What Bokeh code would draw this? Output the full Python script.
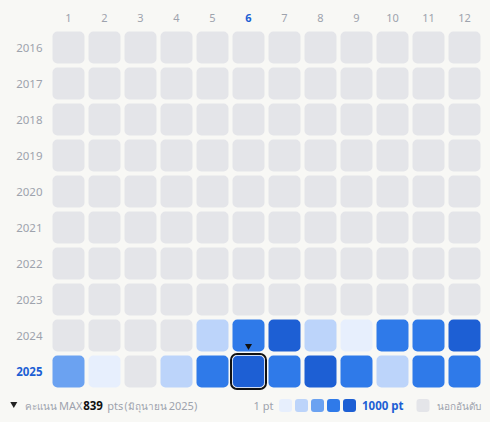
from bokeh.plotting import figure
from bokeh.models import Range1d
from bokeh.embed import file_html
from bokeh.resources import INLINE
from bokeh.core.properties import value

# ---------------- data ----------------
years = [2016, 2017, 2018, 2019, 2020, 2021, 2022, 2023, 2024, 2025]
months = [1, 2, 3, 4, 5, 6, 7, 8, 9, 10, 11, 12]
month_labels = ["1", "2", "3", "4", "5", "6", "7", "8", "9", "10", "11", "12"]
thai_months = ["มกราคม", "กุมภาพันธ์", "มีนาคม", "เมษายน", "พฤษภาคม", "มิถุนายน",
               "กรกฎาคม", "สิงหาคม", "กันยายน", "ตุลาคม", "พฤศจิกายน", "ธันวาคม"]

# monthly points (None = not ranked)
pts_2016 = [None] * 12
pts_2017 = [None] * 12
pts_2018 = [None] * 12
pts_2019 = [None] * 12
pts_2020 = [None] * 12
pts_2021 = [None] * 12
pts_2022 = [None] * 12
pts_2023 = [None] * 12
pts_2024 = [None, None, None, None, 310, 700, 812, 280, 90, 650, 720, 826]
pts_2025 = [480, 60, None, 330, 680, 839, 760, 818, 640, 260, 700, 730]
all_pts = [pts_2016, pts_2017, pts_2018, pts_2019, pts_2020,
           pts_2021, pts_2022, pts_2023, pts_2024, pts_2025]

sel_year = 2025
sel_month = 6
max_pts = 839
score_label = "คะแนน"
max_label = "MAX"
scale_min_label = "1 pt"
scale_max_label = "1000 pt"
unranked_label = "นอกอันดับ"
level_thresholds = [200, 400, 600, 800]

# ---------------- style ----------------
BG = "#f8f8f5"
EMPTY = "#e4e5e9"
BLUES = ["#e7effd", "#bcd4fa", "#6ba2f1", "#2f7ae9", "#1d5fd4"]
GRAY_TXT = "#9ea3ad"
BLUE_TXT = "#1d5fd4"
FONT = value("Noto Sans")

W, H = 490, 422
PX = 36.0
x0 = 1 - 68 / PX          # month 1 centre at page x 68
y_top = 2016 - 47 / PX    # 2016 row centre at page y 47


def dx(px):
    return px / PX


def fx(page_x):
    return x0 + page_x / PX


def fy(page_y):
    return y_top + page_y / PX


def level(v):
    if v is None:
        return None
    lv = 0
    for t in level_thresholds:
        if v > t:
            lv += 1
    return lv


p = figure(width=W, height=H, output_backend="svg", toolbar_location=None,
           x_range=Range1d(x0, x0 + W / PX),
           y_range=Range1d(y_top + H / PX, y_top),
           min_border=0, background_fill_color=BG, border_fill_color=BG,
           outline_line_color=None)
p.axis.visible = False
p.xgrid.visible = False
p.ygrid.visible = False

# cells
cx, cy, cc = [], [], []
for yr, row in zip(years, all_pts):
    for m, v in zip(months, row):
        lv = level(v)
        cx.append(m)
        cy.append(yr)
        cc.append(EMPTY if lv is None else BLUES[lv])
h = dx(16)
p.quad(left=[x - h for x in cx], right=[x + h for x in cx],
       top=[y - h for y in cy], bottom=[y + h for y in cy],
       fill_color=cc, line_color=None, border_radius=5)

# selected cell outline
p.quad(left=[sel_month - h - dx(1.5)], right=[sel_month + h + dx(1.5)],
       top=[sel_year - h - dx(1.5)], bottom=[sel_year + h + dx(1.5)],
       fill_color=None, line_color="#111111", line_width=2, border_radius=6)
p.quad(left=[sel_month - h], right=[sel_month + h],
       top=[sel_year - h], bottom=[sel_year + h],
       fill_color=None, line_color="#ffffff", line_width=1, line_alpha=0.6,
       border_radius=5)
p.scatter(x=[sel_month], y=[sel_year - 1 + dx(10.5)], marker="inverted_triangle",
          size=7, fill_color="#111111", line_color=None)

# month labels
mcol = [BLUE_TXT if m == sel_month else GRAY_TXT for m in months]
mstyle = ["bold" if m == sel_month else "normal" for m in months]
p.text(x=months, y=[fy(17)] * 12, text=month_labels, text_font=FONT,
       text_font_size="11px", text_align="center", text_baseline="middle",
       text_color=mcol, text_font_style=mstyle)

# year labels
ycol = [BLUE_TXT if yv == sel_year else GRAY_TXT for yv in years]
ystyle = ["bold" if yv == sel_year else "normal" for yv in years]
p.text(x=[fx(42)] * len(years), y=years, text=[str(yv) for yv in years],
       text_font=FONT, text_font_size="11.5px", text_align="right",
       text_baseline="middle", text_color=ycol, text_font_style=ystyle)

# footer
FY = fy(405)


def ftext(px_, s, size="11px", color=GRAY_TXT, style="normal", align="left"):
    p.text(x=[fx(px_)], y=[FY], text=[s], text_font=FONT, text_font_size=size,
           text_baseline="middle", text_color=color, text_font_style=style,
           text_align=align)


p.scatter(x=[fx(13.3)], y=[fy(403.5)], marker="inverted_triangle", size=7,
          fill_color="#222222", line_color=None)
ftext(24, score_label, size="10px")
ftext(58.5, max_label)
ftext(82.7, str(max_pts), size="11.5px", color="#111111", style="bold")
ftext(106.7, "pts")
ftext(124, "(" + thai_months[sel_month - 1], size="10px")
ftext(196.7, "%d)" % sel_year, align="right")

ftext(253, scale_min_label)
sq = dx(6.5)
lx = [fx(285 + 16 * i) for i in range(5)]
p.quad(left=[x - sq for x in lx], right=[x + sq for x in lx],
       top=[FY - sq] * 5, bottom=[FY + sq] * 5, fill_color=BLUES,
       line_color=None, border_radius=3)
ftext(361.5, scale_max_label, size="11.5px", color=BLUE_TXT, style="bold")
p.quad(left=[fx(422.5) - sq], right=[fx(422.5) + sq], top=[FY - sq],
       bottom=[FY + sq], fill_color=EMPTY, line_color=None, border_radius=3)
ftext(480, unranked_label, size="10px", align="right")

template = ("{% block postamble %}<style>html,body{background:" + BG +
            ";margin:0;padding:0;}</style>{% endblock %}")
open("out.html", "w").write(file_html(p, INLINE, template=template))
